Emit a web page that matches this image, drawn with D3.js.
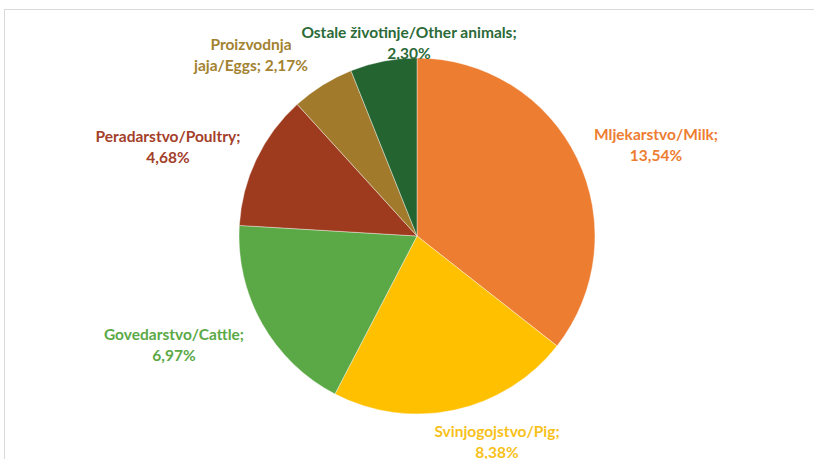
<!DOCTYPE html>
<html><head><meta charset="utf-8">
<script src="https://cdn.jsdelivr.net/npm/d3@7"></script>
<style>body{margin:0;background:#fff;}svg{display:block;}</style>
</head><body>
<svg id="c" width="814" height="459"></svg>
<script>
const categories = ["Mljekarstvo/Milk", "Svinjogojstvo/Pig", "Govedarstvo/Cattle", "Peradarstvo/Poultry", "Proizvodnja jaja/Eggs", "Ostale životinje/Other animals"];
const values = [13.54, 8.38, 6.97, 4.68, 2.17, 2.30];
const valueLabels = ["13,54%", "8,38%", "6,97%", "4,68%", "2,17%", "2,30%"];
const sliceColors = ["#ED7D31", "#FFC000", "#5BA946", "#9E3B1E", "#A27A2C", "#246430"];
const labelColors = ["#ED7D31", "#F7C11A", "#5BA946", "#A3402A", "#A38230", "#2B6A38"];
const labelLines = [
  ["Mljekarstvo/Milk;", "13,54%"],
  ["Svinjogojstvo/Pig;", "8,38%"],
  ["Govedarstvo/Cattle;", "6,97%"],
  ["Peradarstvo/Poultry;", "4,68%"],
  ["Proizvodnja", "jaja/Eggs; 2,17%"],
  ["Ostale životinje/Other animals;", "2,30%"]
];
const labelPos = [[656,140],[497,437],[174,340],[168,142],[251,50],[409,38]];

const svg = d3.select("#c");
svg.append("rect").attr("x",4.5).attr("y",9.5).attr("width",820).attr("height",460)
  .attr("fill","#fff").attr("stroke","#d9d9d9");

const cx = 417, cy = 236, r = 178;
const pie = d3.pie().sort(null).value(d => d);
const arc = d3.arc().innerRadius(0).outerRadius(r);
const g = svg.append("g").attr("transform", `translate(${cx},${cy})`);
g.selectAll("path").data(pie(values)).join("path")
  .attr("d", arc).attr("fill", (d,i) => sliceColors[i])
  .attr("stroke","#fff").attr("stroke-width",0.4);

const lg = svg.append("g").attr("font-family","Lato, 'Open Sans', sans-serif")
  .attr("font-weight","bold").attr("font-size","15.5px").attr("text-anchor","middle");
categories.forEach((c,i) => {
  const t = lg.append("text").attr("fill", labelColors[i]);
  labelLines[i].forEach((ln,j) => {
    t.append("tspan").attr("x", labelPos[i][0]).attr("y", labelPos[i][1] + j*20.5).text(ln);
  });
});
</script>
</body></html>
